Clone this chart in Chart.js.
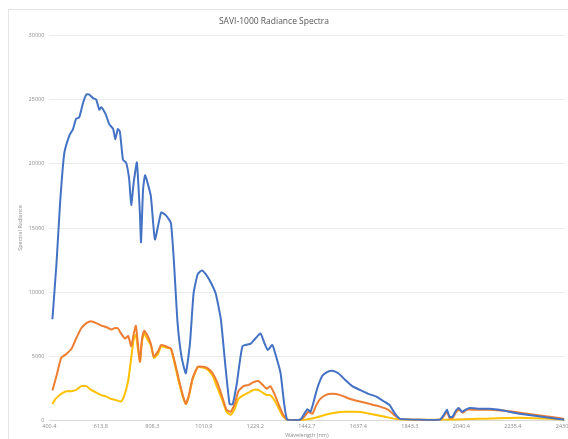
<!DOCTYPE html>
<html>
<head>
<meta charset="utf-8">
<script src="https://cdn.jsdelivr.net/npm/chart.js@4"></script>
<style>
  html, body { margin: 0; padding: 0; background: #fff; overflow: hidden; }
  #marco { position: absolute; left: 8px; top: 9px; width: 700px; height: 600px; border: 1px solid #e4e4e4; }
  #caja { position: absolute; left: 0; top: 0; width: 575px; height: 439px; }
</style>
</head>
<body>
<div id="marco"></div>
<div id="caja"><canvas id="id_grafica_1"></canvas></div>
<script>
// etiquetas del eje x (longitud de onda, una cada 100 muestras)
const waveLabels = ['400.4', '613.8', '808.3', '1010.9', '1229.2', '1442.7', '1637.4', '1843.3', '2040.4', '2235.4', '2430.5'];

// serie 1 (azul)
const azulX = [6, 14, 21, 29, 39, 46, 52, 58, 66, 72, 77, 85, 91, 97, 101, 110, 116, 124, 128, 133, 137, 143, 149, 155, 159, 164, 170, 176, 178, 182, 186, 197, 205, 217, 226, 236, 242, 249, 257, 265, 273, 280, 288, 296, 304, 313, 323, 333, 342, 350, 356, 364, 375, 391, 400, 410, 418, 424, 433, 441, 449, 456, 462, 487, 493, 501, 507, 512, 520, 530, 540, 549, 561, 574, 588, 603, 619, 634, 650, 661, 671, 681, 758, 766, 772, 777, 783, 789, 795, 801, 808, 816, 835, 855, 874, 893, 913, 942, 971, 1000];
const azulY = [7900, 12300, 17000, 20800, 22200, 22700, 23500, 23600, 24800, 25400, 25400, 25100, 25000, 24200, 24400, 23800, 23100, 22700, 21900, 22700, 22500, 20300, 20100, 18800, 16800, 18600, 20100, 16000, 13900, 18000, 19100, 17500, 14100, 16200, 16000, 15400, 12300, 7600, 4900, 3700, 6000, 9900, 11400, 11700, 11400, 10800, 9900, 7900, 4200, 1300, 1300, 2900, 5800, 6000, 6400, 6800, 6000, 5500, 5900, 4900, 3700, 1300, 80, 80, 400, 900, 700, 1300, 2500, 3500, 3800, 3900, 3700, 3200, 2700, 2400, 2100, 1900, 1500, 1200, 550, 150, 80, 470, 860, 310, 310, 780, 1000, 700, 860, 1000, 940, 940, 860, 700, 550, 390, 230, 80];

// serie 2 (naranja)
const naranjaX = [6, 14, 23, 33, 43, 52, 62, 72, 81, 91, 101, 110, 120, 126, 133, 139, 147, 153, 159, 164, 168, 172, 176, 180, 184, 191, 197, 203, 211, 217, 226, 236, 244, 251, 259, 265, 271, 278, 288, 298, 307, 317, 327, 337, 344, 352, 360, 367, 377, 387, 396, 406, 414, 422, 429, 437, 445, 453, 462, 487, 495, 503, 511, 518, 526, 536, 549, 565, 584, 603, 623, 642, 658, 669, 681, 758, 766, 772, 777, 783, 789, 795, 803, 810, 826, 855, 884, 913, 942, 971, 1000];
const naranjaY = [2350, 3500, 4900, 5200, 5600, 6400, 7200, 7600, 7750, 7600, 7400, 7300, 7100, 7200, 7200, 6800, 6400, 6600, 5800, 6800, 7400, 6000, 4600, 6400, 7000, 6600, 6000, 5000, 5400, 5900, 5800, 5600, 4500, 3300, 2000, 1300, 2000, 3300, 4200, 4200, 4100, 3700, 2900, 1700, 860, 700, 1300, 2300, 2700, 2800, 3000, 3100, 2800, 2500, 2700, 2100, 1300, 550, 80, 80, 310, 700, 550, 1200, 1700, 2000, 2100, 2000, 1700, 1500, 1300, 1100, 860, 470, 150, 80, 390, 700, 230, 230, 630, 860, 630, 860, 860, 860, 780, 630, 470, 310, 150];

// serie 3 (amarillo)
const amarilloX = [6, 12, 17, 23, 33, 43, 52, 62, 72, 81, 91, 101, 110, 120, 130, 139, 145, 153, 159, 164, 168, 172, 176, 180, 184, 191, 197, 203, 211, 217, 226, 236, 244, 251, 259, 265, 271, 278, 288, 298, 307, 317, 327, 337, 344, 352, 360, 367, 377, 387, 396, 406, 414, 422, 429, 437, 445, 453, 462, 497, 516, 536, 555, 574, 594, 613, 632, 652, 671, 690, 777, 835, 913, 971, 1000];
const amarilloY = [1300, 1700, 1900, 2100, 2300, 2300, 2400, 2700, 2700, 2400, 2200, 2000, 1900, 1700, 1600, 1500, 1900, 3100, 4900, 6400, 6700, 5600, 4600, 6200, 6800, 6300, 5900, 4900, 5200, 5800, 5700, 5600, 4300, 3100, 1900, 1300, 1900, 3200, 4150, 4150, 4000, 3500, 2500, 1500, 700, 470, 940, 1700, 2000, 2200, 2400, 2400, 2200, 2000, 2000, 1600, 1000, 390, 80, 80, 230, 470, 630, 700, 700, 630, 470, 310, 150, 80, 80, 150, 230, 150, 80];

const yTicks = [0, 5000, 10000, 15000, 20000, 25000, 30000];

const mis_colores = ['#4472C4', '#ED7D31', '#FFC000'];

const armarPuntos = (xs, ys) => xs.map((x, i) => ({ x: x, y: ys[i] }));

const fuente = "'Open Sans', 'Liberation Sans', sans-serif";

// corre el titulo un poco a la izquierda, como en la imagen original
const moverTitulo = {
    id: 'moverTitulo',
    afterLayout: (chart) => {
        const t = chart.titleBlock;
        if (t) { t.left -= 22; t.right -= 22; }
    }
};

let ctx1 = document.getElementById('id_grafica_1').getContext('2d');
let chart1 = new Chart(ctx1, {
    type: 'line',
    data: {
        datasets: [
            { label: 'Serie 1', data: armarPuntos(azulX, azulY), borderColor: mis_colores[0] },
            { label: 'Serie 2', data: armarPuntos(naranjaX, naranjaY), borderColor: mis_colores[1] },
            { label: 'Serie 3', data: armarPuntos(amarilloX, amarilloY), borderColor: mis_colores[2] }
        ]
    },
    plugins: [moverTitulo],
    options: {
        responsive: true,
        maintainAspectRatio: false,
        animation: false,
        elements: {
            point: { radius: 0 },
            line: { borderWidth: 2, tension: 0.15, fill: false }
        },
        layout: { padding: { left: 17, top: 16, bottom: 0, right: 0 } },
        plugins: {
            legend: { display: false },
            tooltip: { enabled: false },
            title: {
                display: true,
                text: 'SAVI-1000 Radiance Spectra',
                color: '#595959',
                font: { family: fuente, size: 8.5, weight: 'normal' },
                padding: { top: 0, bottom: 9 }
            }
        },
        scales: {
            x: {
                type: 'linear',
                min: 0,
                max: 1000,
                afterBuildTicks: (s) => { s.ticks = waveLabels.map((l, i) => ({ value: i * 100 })); },
                ticks: {
                    callback: (v) => waveLabels[Math.round(v / 100)],
                    color: '#8c8c8c',
                    font: { family: fuente, size: 5.5 },
                    maxRotation: 0,
                    padding: 2
                },
                grid: { display: false, drawTicks: false },
                border: { color: '#d9d9d9' },
                title: {
                    display: true,
                    text: 'Wavelength (nm)',
                    color: '#8c8c8c',
                    font: { family: fuente, size: 5.5 },
                    padding: { top: 1, bottom: 0 }
                }
            },
            y: {
                min: 0,
                max: 30000,
                afterBuildTicks: (s) => { s.ticks = yTicks.map((v) => ({ value: v })); },
                ticks: {
                    callback: (v) => String(v),
                    color: '#8c8c8c',
                    font: { family: fuente, size: 5.5 },
                    padding: 5
                },
                grid: { color: '#ececec', drawTicks: false },
                border: { display: false },
                title: {
                    display: true,
                    text: 'Spectral Radiance',
                    color: '#8c8c8c',
                    font: { family: fuente, size: 5.5 },
                    padding: { top: 0, bottom: 0 }
                }
            }
        }
    }
});
</script>
</body>
</html>
